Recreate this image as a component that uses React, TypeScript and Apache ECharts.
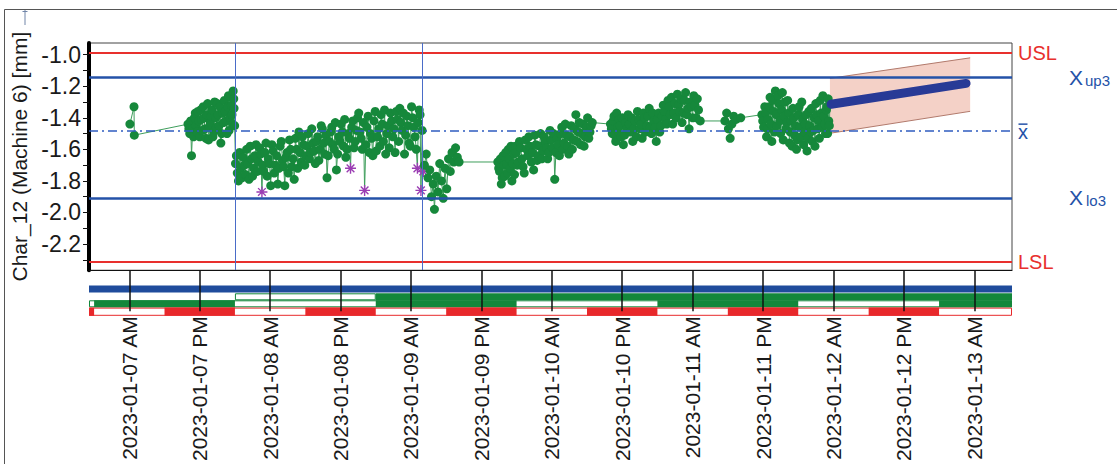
import React, { useEffect, useRef } from "react";
import * as echarts from "echarts";

// ---------- axes ----------
const xMin = -6.87; // hours relative to 2023-01-07 00:00
const xMax = 150.43;
const yMin = -2.366;
const yMax = -0.926;
const tickHours = [0, 12, 24, 36, 48, 60, 72, 84, 96, 108, 120, 132, 144];
const tickLabels = [
  "2023-01-07 AM", "2023-01-07 PM", "2023-01-08 AM", "2023-01-08 PM",
  "2023-01-09 AM", "2023-01-09 PM", "2023-01-10 AM", "2023-01-10 PM",
  "2023-01-11 AM", "2023-01-11 PM", "2023-01-12 AM", "2023-01-12 PM",
  "2023-01-13 AM",
];
const yLabelValues = [-1.0, -1.2, -1.4, -1.6, -1.8, -2.0, -2.2];
const yTickValues = [-1.0, -1.1, -1.2, -1.3, -1.4, -1.5, -1.6, -1.7, -1.8, -1.9, -2.0, -2.1, -2.2, -2.3];
const yAxisName = "Char_12 (Machine 6) [mm]";

// ---------- limits ----------
const USL = -0.986;
const LSL = -2.305;
const Xup3 = -1.14;
const Xlo3 = -1.905;
const Xbar = -1.475;
const changeMarkers = [18, 50];

// ---------- measurements [hour, value] ----------
const run1 = [[0.1, -1.44], [0.8, -1.33], [0.85, -1.51]];
const run2 = [
  [10.0, -1.44], [10.15, -1.47], [10.3, -1.5], [10.45, -1.42], [10.6, -1.64], [10.8, -1.47], [10.95, -1.52],
  [11.1, -1.4], [11.25, -1.37], [11.4, -1.45], [11.55, -1.49], [11.7, -1.36], [11.85, -1.42],
  [12.0, -1.52], [12.15, -1.35], [12.3, -1.41], [12.45, -1.48], [12.6, -1.33], [12.75, -1.4], [12.9, -1.47],
  [13.05, -1.53], [13.2, -1.38], [13.35, -1.31], [13.5, -1.54], [13.65, -1.46], [13.8, -1.43], [13.95, -1.39],
  [14.1, -1.35], [14.25, -1.52], [14.4, -1.49], [14.55, -1.3], [14.7, -1.4], [14.85, -1.46], [15.0, -1.31],
  [15.15, -1.38], [15.3, -1.45], [15.45, -1.33], [15.6, -1.56], [15.75, -1.5], [15.9, -1.37], [16.05, -1.43],
  [16.2, -1.29], [16.35, -1.36], [16.5, -1.42], [16.65, -1.5], [16.8, -1.33], [16.9, -1.26], [17.0, -1.48],
  [17.15, -1.4], [17.3, -1.27], [17.4, -1.32], [17.5, -1.38], [17.6, -1.44], [17.7, -1.23], [17.8, -1.28],
  [17.85, -1.34], [17.95, -1.45],
];
const run3 = [
  [18.1, -1.69], [18.25, -1.64], [18.4, -1.75], [18.6, -1.8], [18.8, -1.62], [19.0, -1.72], [19.2, -1.78],
  [19.4, -1.65], [19.6, -1.7], [19.8, -1.76], [20.0, -1.6], [20.2, -1.69], [20.4, -1.79], [20.6, -1.58],
  [20.8, -1.66], [21.0, -1.77], [21.2, -1.72], [21.4, -1.64], [21.6, -1.57], [21.8, -1.74], [22.0, -1.68],
  [22.2, -1.59], [22.4, -1.63], [22.6, -1.87], [22.75, -1.7], [22.9, -1.74], [23.1, -1.62], [23.3, -1.56],
  [23.5, -1.77], [23.7, -1.66], [23.9, -1.69], [24.1, -1.83], [24.3, -1.57], [24.5, -1.61], [24.7, -1.75],
  [24.9, -1.7], [25.1, -1.64], [25.3, -1.82], [25.5, -1.72], [25.7, -1.58], [25.9, -1.55], [26.1, -1.67],
  [26.3, -1.71], [26.5, -1.83], [26.7, -1.65], [26.9, -1.62], [27.1, -1.75], [27.3, -1.54], [27.5, -1.6],
  [27.7, -1.71], [27.9, -1.66], [28.1, -1.79], [28.3, -1.53], [28.5, -1.6], [28.7, -1.72], [28.9, -1.49],
  [29.1, -1.62], [29.3, -1.68], [29.5, -1.52], [29.7, -1.57], [29.9, -1.7], [30.1, -1.64], [30.3, -1.58],
  [30.5, -1.5], [30.7, -1.66], [30.9, -1.62], [31.1, -1.47], [31.3, -1.56], [31.5, -1.61], [31.7, -1.69],
  [31.9, -1.55], [32.1, -1.52], [32.3, -1.67], [32.5, -1.6], [32.7, -1.45], [32.9, -1.47], [33.1, -1.56],
  [33.3, -1.63], [33.5, -1.51], [33.7, -1.78], [33.9, -1.64], [34.1, -1.55], [34.3, -1.49], [34.5, -1.46],
  [34.7, -1.57], [34.9, -1.6], [35.1, -1.43], [35.3, -1.73], [35.5, -1.63], [35.7, -1.52], [35.9, -1.55],
  [36.1, -1.44], [36.3, -1.49], [36.5, -1.58], [36.7, -1.41], [36.9, -1.65], [37.1, -1.6], [37.3, -1.5],
  [37.5, -1.53], [37.7, -1.72], [37.9, -1.46], [38.1, -1.42], [38.3, -1.59], [38.5, -1.55], [38.7, -1.48],
  [38.9, -1.4], [39.1, -1.37], [39.3, -1.49], [39.5, -1.53], [39.7, -1.6], [39.9, -1.43], [40.1, -1.86],
  [40.3, -1.57], [40.5, -1.46], [40.7, -1.39], [40.9, -1.62], [41.1, -1.5], [41.3, -1.53], [41.5, -1.64],
  [41.7, -1.42], [41.9, -1.36], [42.1, -1.61], [42.3, -1.52], [42.5, -1.47], [42.7, -1.58], [42.9, -1.38],
  [43.1, -1.44], [43.3, -1.55], [43.5, -1.35], [43.7, -1.63], [43.9, -1.5], [44.1, -1.45], [44.3, -1.59],
  [44.5, -1.37], [44.7, -1.42], [44.9, -1.52], [45.1, -1.47], [45.3, -1.62], [45.5, -1.36], [45.7, -1.41],
  [45.9, -1.55], [46.1, -1.34], [46.3, -1.43], [46.5, -1.48], [46.7, -1.37], [46.9, -1.63], [47.1, -1.51],
  [47.3, -1.39], [47.5, -1.45], [47.7, -1.56], [47.9, -1.58], [48.1, -1.33], [48.3, -1.4], [48.5, -1.46],
  [48.7, -1.52], [48.9, -1.6], [49.1, -1.72], [49.25, -1.43], [49.4, -1.35], [49.55, -1.38], [49.7, -1.86],
  [49.9, -1.48], [50.1, -1.74],
];
const run4 = [
  [50.3, -1.7], [50.6, -1.63], [50.9, -1.78], [51.2, -1.73], [51.5, -1.9], [51.8, -1.82], [52.0, -1.98],
  [52.3, -1.77], [52.6, -1.87], [52.9, -1.69], [53.2, -1.8], [53.5, -1.91], [53.8, -1.72], [54.1, -1.85],
  [54.4, -1.66], [54.7, -1.74], [55.0, -1.62], [55.3, -1.68], [55.6, -1.59], [55.9, -1.65], [56.2, -1.68],
];
const run5 = [
  [62.8, -1.68], [62.95, -1.72], [63.1, -1.74], [63.25, -1.66], [63.4, -1.82], [63.55, -1.78], [63.7, -1.64],
  [63.85, -1.7], [64.0, -1.77], [64.15, -1.62], [64.3, -1.69], [64.45, -1.75], [64.6, -1.6], [64.75, -1.66],
  [64.9, -1.72], [65.05, -1.58], [65.2, -1.8], [65.35, -1.69], [65.5, -1.63], [65.65, -1.76], [65.8, -1.58],
  [65.95, -1.62], [66.1, -1.7], [66.3, -1.68], [66.5, -1.55], [66.7, -1.59], [66.9, -1.66], [67.1, -1.71],
  [67.3, -1.75], [67.5, -1.54], [67.7, -1.6], [67.9, -1.64], [68.1, -1.52], [68.3, -1.58], [68.5, -1.68],
  [68.7, -1.62], [68.9, -1.73], [69.1, -1.51], [69.3, -1.57], [69.5, -1.67], [69.7, -1.64], [69.9, -1.58],
  [70.1, -1.5], [70.3, -1.66], [70.5, -1.61], [70.7, -1.52], [70.9, -1.55], [71.1, -1.59], [71.3, -1.66],
  [71.5, -1.62], [71.7, -1.48], [71.9, -1.54], [72.1, -1.59], [72.3, -1.5], [72.5, -1.79], [72.7, -1.62],
  [72.9, -1.53], [73.1, -1.57], [73.3, -1.64], [73.5, -1.5], [73.7, -1.46], [73.9, -1.6], [74.1, -1.56],
  [74.3, -1.44], [74.5, -1.51], [74.7, -1.58], [74.9, -1.63], [75.1, -1.52], [75.3, -1.45], [75.5, -1.6],
  [75.7, -1.54], [75.9, -1.47], [76.1, -1.38], [76.3, -1.55], [76.5, -1.49], [76.7, -1.43], [76.9, -1.57],
  [77.1, -1.5], [77.3, -1.44], [77.5, -1.58], [77.7, -1.52], [77.9, -1.46], [78.1, -1.4], [78.3, -1.53],
  [78.5, -1.49], [78.7, -1.45], [78.9, -1.43],
];
const run6 = [
  [82.0, -1.44], [82.15, -1.47], [82.3, -1.5], [82.45, -1.42], [82.6, -1.39], [82.75, -1.51], [82.9, -1.55],
  [83.05, -1.37], [83.2, -1.46], [83.35, -1.49], [83.5, -1.41], [83.65, -1.45], [83.8, -1.52], [84.0, -1.4],
  [84.2, -1.57], [84.4, -1.51], [84.6, -1.43], [84.8, -1.47], [85.0, -1.38], [85.2, -1.44], [85.4, -1.49],
  [85.6, -1.4], [85.8, -1.55], [86.0, -1.47], [86.2, -1.42], [86.4, -1.52], [86.6, -1.36], [86.8, -1.41],
  [87.0, -1.47], [87.2, -1.44], [87.4, -1.53], [87.6, -1.37], [87.8, -1.4], [88.0, -1.49], [88.2, -1.45],
  [88.4, -1.39], [88.6, -1.34], [88.8, -1.46], [89.0, -1.5], [89.2, -1.37], [89.4, -1.42], [89.6, -1.46],
  [89.8, -1.55], [90.0, -1.41], [90.2, -1.37], [90.4, -1.49], [90.6, -1.45], [90.8, -1.39], [91.0, -1.32],
  [91.2, -1.36], [91.4, -1.41], [91.6, -1.44], [91.8, -1.29], [92.0, -1.33], [92.2, -1.38], [92.4, -1.27],
  [92.6, -1.44], [92.8, -1.37], [93.0, -1.31], [93.2, -1.4], [93.4, -1.25], [93.6, -1.32], [93.8, -1.36],
  [94.0, -1.28], [94.2, -1.43], [94.4, -1.37], [94.6, -1.29], [94.8, -1.24], [95.0, -1.38], [95.2, -1.34],
  [95.4, -1.47], [95.6, -1.3], [95.8, -1.33], [96.0, -1.4], [96.2, -1.26], [96.4, -1.32], [96.6, -1.4],
  [96.8, -1.28], [97.0, -1.35], [97.3, -1.42],
];
const run7 = [
  [101.5, -1.42], [101.8, -1.37], [102.1, -1.47], [102.4, -1.53], [102.7, -1.44], [103.0, -1.39],
  [103.4, -1.41], [104.2, -1.4],
];
const run8 = [
  [107.8, -1.38], [107.95, -1.42], [108.1, -1.46], [108.3, -1.33], [108.45, -1.37], [108.6, -1.52],
  [108.75, -1.47], [108.9, -1.41], [109.05, -1.33], [109.2, -1.27], [109.35, -1.44], [109.5, -1.55],
  [109.65, -1.29], [109.8, -1.36], [109.95, -1.49], [110.1, -1.23], [110.25, -1.38], [110.4, -1.45],
  [110.55, -1.26], [110.7, -1.31], [110.85, -1.42], [111.0, -1.5], [111.15, -1.35], [111.3, -1.24],
  [111.45, -1.54], [111.6, -1.39], [111.75, -1.3], [111.9, -1.47], [112.05, -1.43], [112.2, -1.29],
  [112.35, -1.37], [112.5, -1.56], [112.65, -1.49], [112.8, -1.42], [112.95, -1.58], [113.1, -1.34],
  [113.25, -1.4], [113.4, -1.51], [113.55, -1.45], [113.7, -1.6], [113.85, -1.54], [114.0, -1.38],
  [114.15, -1.33], [114.3, -1.46], [114.45, -1.52], [114.6, -1.3], [114.75, -1.41], [114.9, -1.57],
  [115.05, -1.49], [115.2, -1.44], [115.35, -1.38], [115.5, -1.61], [115.65, -1.53], [115.8, -1.36],
  [115.95, -1.45], [116.1, -1.49], [116.25, -1.34], [116.4, -1.55], [116.55, -1.48], [116.7, -1.4],
  [116.85, -1.58], [117.0, -1.31], [117.15, -1.38], [117.3, -1.47], [117.45, -1.42], [117.6, -1.53],
  [117.75, -1.29], [117.9, -1.37], [118.05, -1.46], [118.2, -1.26], [118.35, -1.39], [118.5, -1.44],
  [118.65, -1.5], [118.8, -1.35], [118.9, -1.33], [119.0, -1.5], [119.1, -1.28], [119.2, -1.42],
  [119.3, -1.45], [119.4, -1.31],
];
const outOfControlHours = [22.6, 37.7, 40.1, 49.1, 49.7, 50.1];

// ---------- forecast ----------
const forecastHours = [119.6, 142.6];
const forecastMean = [-1.314, -1.182];
const bandHours = [119.4, 143.3];
const bandUpper = [-1.15, -1.02];
const bandLower = [-1.498, -1.359];

// ---------- status strip: [startHour, endHour, row, state] ----------
// rows: 0 blue, 1 green upper, 2 green lower, 3 red ; state: 1 filled, 2 outline
const blueSegments = [[-7, 151, 0, 1]];
const greenUpperSegments = [[18, 42, 1, 2], [42, 151, 1, 1]];
const greenLowerSegments = [
  [-7, 151, 2, 2], [-6, 18, 2, 1], [42, 66, 2, 1], [90, 114, 2, 1], [138, 151, 2, 1],
];
const redSegments = [
  [-7, 151, 3, 2], [-7, -6, 3, 1], [6, 18, 3, 1], [30, 42, 3, 1], [54, 66, 3, 1],
  [78, 90, 3, 1], [102, 114, 3, 1], [126, 138, 3, 1],
];

// style constants
const FONT = "Liberation Sans";
const GREEN = "#16883b";
const BLUE = "#2452a8";
const RED = "#e8302d";
const stripRowExtents = [[0.5, 7.5], [8.3, 15.3], [15.3, 22.3], [22.6, 30.8]];
const stripRowColors = ["#1f4c9c", "#13873b", "#13873b", "#e8282b"];

function buildMeasurements() {
  const all = [...run1, ...run2, ...run3, ...run4, ...run5, ...run6, ...run7, ...run8];
  return all.map((p) => {
    if (outOfControlHours.includes(p[0])) {
      return {
        value: p,
        symbol: "path://M5 0L5 10M0 5L10 5M1.5 1.5L8.5 8.5M8.5 1.5L1.5 8.5",
        symbolSize: 11,
        itemStyle: { color: "#9b3db3", borderColor: "#9b3db3", borderWidth: 1.4 },
      };
    }
    return { value: p };
  });
}

export default function App() {
  const ref = useRef<HTMLDivElement>(null);
  useEffect(() => {
    const chart = echarts.init(ref.current as HTMLDivElement, null, { renderer: "svg" });
    const stripData = [...blueSegments, ...greenUpperSegments, ...greenLowerSegments, ...redSegments];
    const option: any = {
      animation: false,
      backgroundColor: "#ffffff",
      textStyle: { fontFamily: FONT },
      grid: [
        { left: 89, top: 43, width: 923, height: 234, show: true, borderColor: "#444", borderWidth: 1, backgroundColor: "#fff" },
        { left: 89, top: 285, width: 923, height: 31, show: false },
      ],
      xAxis: [
        {
          type: "value", gridIndex: 0, min: xMin, max: xMax, z: 6,
          axisLine: { show: true, onZero: false, lineStyle: { color: "#111", width: 1 } },
          axisTick: { show: true, length: 41, customValues: tickHours, lineStyle: { color: "#111", width: 1.5 } },
          axisLabel: {
            show: true, customValues: tickHours, rotate: 90, margin: 46, fontSize: 21, color: "#1a1a1a", fontFamily: FONT,
            formatter: (v: number) => tickLabels[tickHours.indexOf(v)] || "",
          },
          splitLine: { show: false },
        },
        { type: "value", gridIndex: 1, min: xMin, max: xMax, show: false },
      ],
      yAxis: [
        {
          type: "value", gridIndex: 0, min: yMin, max: yMax,
          name: yAxisName, nameLocation: "middle", nameGap: 54,
          nameTextStyle: { fontSize: 21, color: "#1a1a1a", fontFamily: FONT },
          axisLine: { show: true, onZero: false, lineStyle: { color: "#000", width: 4, cap: "round" } },
          axisTick: { show: true, length: 6, customValues: yTickValues, lineStyle: { color: "#111", width: 1 } },
          axisLabel: {
            show: true, customValues: yLabelValues, margin: 8, fontSize: 23, color: "#1a1a1a", fontFamily: FONT,
            formatter: (v: number) => v.toFixed(1),
          },
          splitLine: { show: false },
        },
        { type: "value", gridIndex: 1, min: 0, max: 31, inverse: true, show: false },
      ],
      series: [
        {
          type: "custom", xAxisIndex: 0, yAxisIndex: 0, z: 1, silent: true,
          data: [0],
          renderItem: (_p: any, api: any) => {
            const tl = api.coord([bandHours[0], bandUpper[0]]);
            const tr = api.coord([bandHours[1], bandUpper[1]]);
            const br = api.coord([bandHours[1], bandLower[1]]);
            const bl = api.coord([bandHours[0], bandLower[0]]);
            return {
              type: "group",
              children: [
                { type: "polygon", shape: { points: [tl, tr, br, bl] }, style: { fill: "rgba(238,180,165,0.62)" } },
                { type: "line", shape: { x1: tl[0], y1: tl[1], x2: tr[0], y2: tr[1] }, style: { stroke: "#b27a6c", lineWidth: 1 } },
                { type: "line", shape: { x1: bl[0], y1: bl[1], x2: br[0], y2: br[1] }, style: { stroke: "#b27a6c", lineWidth: 1 } },
              ],
            };
          },
        },
        {
          type: "line", xAxisIndex: 0, yAxisIndex: 0, data: [], z: 2, silent: true,
          markLine: {
            silent: true, symbol: ["none", "none"], label: { show: false },
            data: [
              { yAxis: USL, lineStyle: { color: RED, width: 2, type: "solid" } },
              { yAxis: LSL, lineStyle: { color: RED, width: 2, type: "solid" } },
              { yAxis: Xup3, lineStyle: { color: BLUE, width: 2.5, type: "solid" } },
              { yAxis: Xlo3, lineStyle: { color: BLUE, width: 2.5, type: "solid" } },
              { yAxis: Xbar, lineStyle: { color: "#2f5cc0", width: 1.5, type: [9, 4, 2, 4] } },
              ...changeMarkers.map((h) => ({ xAxis: h, lineStyle: { color: "#4a6cc8", width: 1, type: "solid" } })),
            ],
          },
        },
        {
          type: "line", xAxisIndex: 0, yAxisIndex: 0, z: 3, silent: true,
          data: buildMeasurements(),
          symbol: "circle", symbolSize: 9, showSymbol: true, showAllSymbol: true,
          itemStyle: { color: GREEN },
          lineStyle: { color: "#3f9e5c", width: 1 },
          emphasis: { disabled: true },
        },
        {
          type: "line", xAxisIndex: 0, yAxisIndex: 0, z: 4, silent: true,
          data: forecastHours.map((h, i) => [h, forecastMean[i]]),
          showSymbol: false,
          lineStyle: { color: "#283a96", width: 9, cap: "round" },
        },
        {
          type: "custom", xAxisIndex: 1, yAxisIndex: 1, z: 1, silent: true,
          data: stripData,
          renderItem: (_p: any, api: any) => {
            const start = Math.max(api.value(0), xMin);
            const end = Math.min(api.value(1), xMax);
            const row = api.value(2);
            const state = api.value(3);
            const ext = stripRowExtents[row];
            const p0 = api.coord([start, ext[0]]);
            const p1 = api.coord([end, ext[1]]);
            const color = stripRowColors[row];
            if (state === 1) {
              return { type: "rect", shape: { x: p0[0], y: p0[1], width: p1[0] - p0[0], height: p1[1] - p0[1] }, style: { fill: color } };
            }
            return {
              type: "rect",
              shape: { x: p0[0] + 0.5, y: p0[1] + 0.5, width: p1[0] - p0[0] - 1, height: p1[1] - p0[1] - 1 },
              style: { fill: "none", stroke: color, lineWidth: 1 },
            };
          },
        },
      ],
    };
    chart.setOption(option);

    const yPix = (v: number) => chart.convertToPixel({ yAxisIndex: 0 }, v) as number;
    const rightX = 1018;
    const subX = 1069;
    chart.setOption({
      graphic: [
        { type: "rect", silent: true, shape: { x: 4.5, y: 9.5, width: 1200, height: 500 }, style: { fill: "none", stroke: "#555", lineWidth: 1 } },
        { type: "line", silent: true, shape: { x1: 25, y1: 10, x2: 25, y2: 25 }, style: { stroke: "#7085a8", lineWidth: 1 } },
        { type: "line", silent: true, shape: { x1: 22.5, y1: 11.5, x2: 27.5, y2: 11.5 }, style: { stroke: "#7085a8", lineWidth: 1 } },
        { type: "text", silent: true, x: rightX, y: yPix(USL) + 1, style: { text: "USL", fill: RED, fontSize: 20, fontFamily: FONT, verticalAlign: "middle" } },
        { type: "text", silent: true, x: rightX, y: yPix(LSL) + 1, style: { text: "LSL", fill: RED, fontSize: 20, fontFamily: FONT, verticalAlign: "middle" } },
        { type: "text", silent: true, x: rightX, y: yPix(Xbar) + 2.5, style: { text: "x", fill: BLUE, fontSize: 20, fontFamily: FONT, verticalAlign: "middle" } },
        { type: "line", silent: true, shape: { x1: rightX + 0.5, y1: yPix(Xbar) - 5.5, x2: rightX + 9.5, y2: yPix(Xbar) - 5.5 }, style: { stroke: BLUE, lineWidth: 1.5 } },
        { type: "text", silent: true, x: subX, y: yPix(Xup3) + 0.5, style: { text: "X", fill: BLUE, fontSize: 21, fontFamily: FONT, verticalAlign: "middle" } },
        { type: "text", silent: true, x: subX + 16, y: yPix(Xup3) + 3.5, style: { text: "up3", fill: BLUE, fontSize: 15, fontFamily: FONT, verticalAlign: "middle" } },
        { type: "text", silent: true, x: subX, y: yPix(Xlo3) + 0.5, style: { text: "X", fill: BLUE, fontSize: 21, fontFamily: FONT, verticalAlign: "middle" } },
        { type: "text", silent: true, x: subX + 17, y: yPix(Xlo3) + 3.5, style: { text: "lo3", fill: BLUE, fontSize: 15, fontFamily: FONT, verticalAlign: "middle" } },
      ],
    });
    return () => chart.dispose();
  }, []);
  return <div ref={ref} style={{ position: "fixed", left: 0, top: 0, width: 1117, height: 464, background: "#fff" }} />;
}
